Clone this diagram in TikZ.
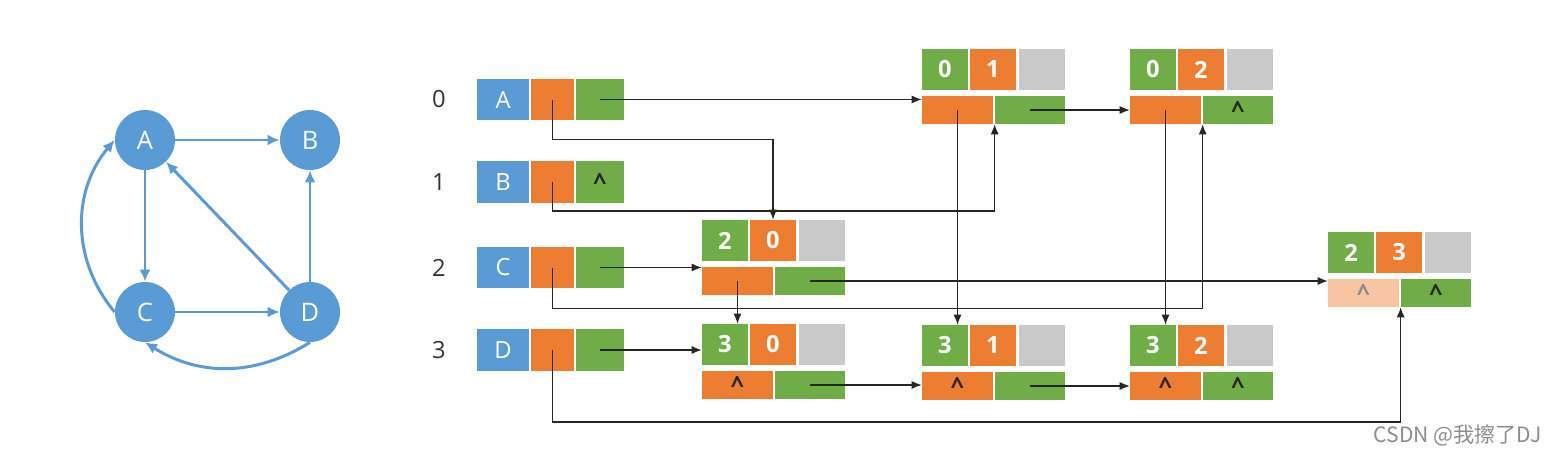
\documentclass[tikz,border=0pt]{standalone}
\usepackage{fontspec}
\setmainfont{Open Sans}
\newfontfamily\cjkfont{Noto Sans CJK SC}
\usetikzlibrary{arrows.meta}
\definecolor{vblue}{HTML}{5B9BD5}
\definecolor{corange}{HTML}{ED7D31}
\definecolor{cgreen}{HTML}{70AD47}
\definecolor{cgray}{HTML}{C9C9C9}
\newcommand\nul{\raisebox{-0.35ex}{\bfseries\textasciicircum}}

\begin{document}
\begin{tikzpicture}[x=0.02cm, y=-0.02cm, >=Latex,
  font=\fontsize{13.5}{16}\selectfont,
  vertex/.style={circle, fill=vblue, text=white, minimum size=1.2cm, inner sep=0pt, font=\fontsize{14.5}{17}\selectfont},
  gedge/.style={-{Latex[length=2.4mm,width=2.2mm]}, vblue, line width=1.7pt},
  idx/.style={text=black!80},
  vcell/.style={inner sep=0pt, minimum height=0.84cm, text=white},
  tcell/.style={inner sep=0pt, minimum width=0.92cm, minimum height=0.82cm, text=white, font=\fontsize{13.5}{16}\selectfont\bfseries},
  bcell/.style={inner sep=0pt, minimum height=0.56cm, text=black!85},
  ptr/.style={-{Latex[length=2mm,width=1.6mm]}, line width=0.6pt, black!85}]
\useasboundingbox (0,0) rectangle (1558,453);

% the graph
\node[vertex] (A) at (145,140) {A};
\node[vertex] (B) at (310,140) {B};
\node[vertex] (C) at (145,312) {C};
\node[vertex] (D) at (310,312) {D};
\draw[gedge] (A) -- (B);
\draw[gedge] (A) -- (C);
\draw[gedge] (C) -- (D);
\draw[gedge] (D) -- (B);
\draw[gedge] (D) -- (A);
\draw[gedge] (C.west) to[bend left=40] (A.west);
\draw[gedge] (D.south) to[bend left=32] (C.south);

% vertex table: data, firstin, firstout
\foreach \v/\y/\i in {A/99.5/0, B/182/1, C/267.5/2, D/350/3} {
  \node[idx] (i\v) at (439,\y) {\i};
  \node[vcell, fill=vblue, minimum width=1.04cm] (d\v) at (503,\y) {\v};
  \node[vcell, fill=corange, minimum width=0.86cm] (in\v) at (552.5,\y) {};
  \node[vcell, fill=cgreen, minimum width=0.96cm] (out\v) at (600,\y) {};
}
\node[text=black!85] (nB) at (outB) {\nul};

% arc nodes: tail, head, info / headlink, taillink
\foreach \n/\x/\y/\t/\h/\hl/\tl in {e20/702/220/2/0/{}/{}, e30/702/324/3/0/\nul/{},
    e01/922/49/0/1/{}/{}, e31/922/325/3/1/\nul/{}, e02/1130/49/0/2/{}/\nul,
    e32/1130/325/3/2/\nul/\nul, e23/1328/232/2/3/{}/\nul} {
  \node[tcell, fill=cgreen] (\n-t) at (\x+23,\y+20.5) {\t};
  \node[tcell, fill=corange] (\n-h) at (\x+71,\y+20.5) {\h};
  \node[tcell, fill=cgray] (\n-i) at (\x+120,\y+20.5) {};
  \node[bcell, fill=corange, minimum width=1.42cm] (\n-hl) at (\x+35.5,\y+61) {\hl};
  \node[bcell, fill=cgreen, minimum width=1.4cm] (\n-tl) at (\x+108,\y+61) {\tl};
}
\node[bcell, fill=corange!45!white, minimum width=1.42cm, text=black!45] (e23-fade) at (e23-hl) {\nul};

% firstout pointers
\draw[ptr] (outA.center) -- (outA.center -| e01-hl.west);
\draw[ptr] (outC.center) -- (outC.center -| e20-hl.west);
\draw[ptr] (outD.center) -- (outD.center -| e30-t.west);
% firstin pointers
\draw[ptr] (inA.center) -- ++(0,40) -| (e20-h.north);
\draw[ptr] (inB.center) -- ++(0,29) -| (e01-tl.south west);
\draw[ptr] (inC.center) -- ++(0,41) -| (e02-tl.south west);
\draw[ptr] (inD.center) -- ++(0,72) -| (e23-tl.south west);
% taillinks
\draw[ptr] (e20-tl.center) -- (e20-tl.center -| e23-hl.west);
\draw[ptr] (e01-tl.center) -- (e01-tl.center -| e02-hl.west);
\draw[ptr] (e30-tl.center) -- (e30-tl.center -| e31-hl.west);
\draw[ptr] (e31-tl.center) -- (e31-tl.center -| e32-hl.west);
% headlinks
\draw[ptr] (e20-hl.center) -- (e20-hl.center |- e30-t.north);
\draw[ptr] (e01-hl.center) -- (e01-hl.center |- e31-t.north);
\draw[ptr] (e02-hl.center) -- (e02-hl.center |- e32-t.north);

\node[text=black!45, font=\cjkfont\fontsize{12}{14}\selectfont, anchor=east] (mark) at (1548,435) {CSDN @我擦了DJ};
\end{tikzpicture}
\end{document}
